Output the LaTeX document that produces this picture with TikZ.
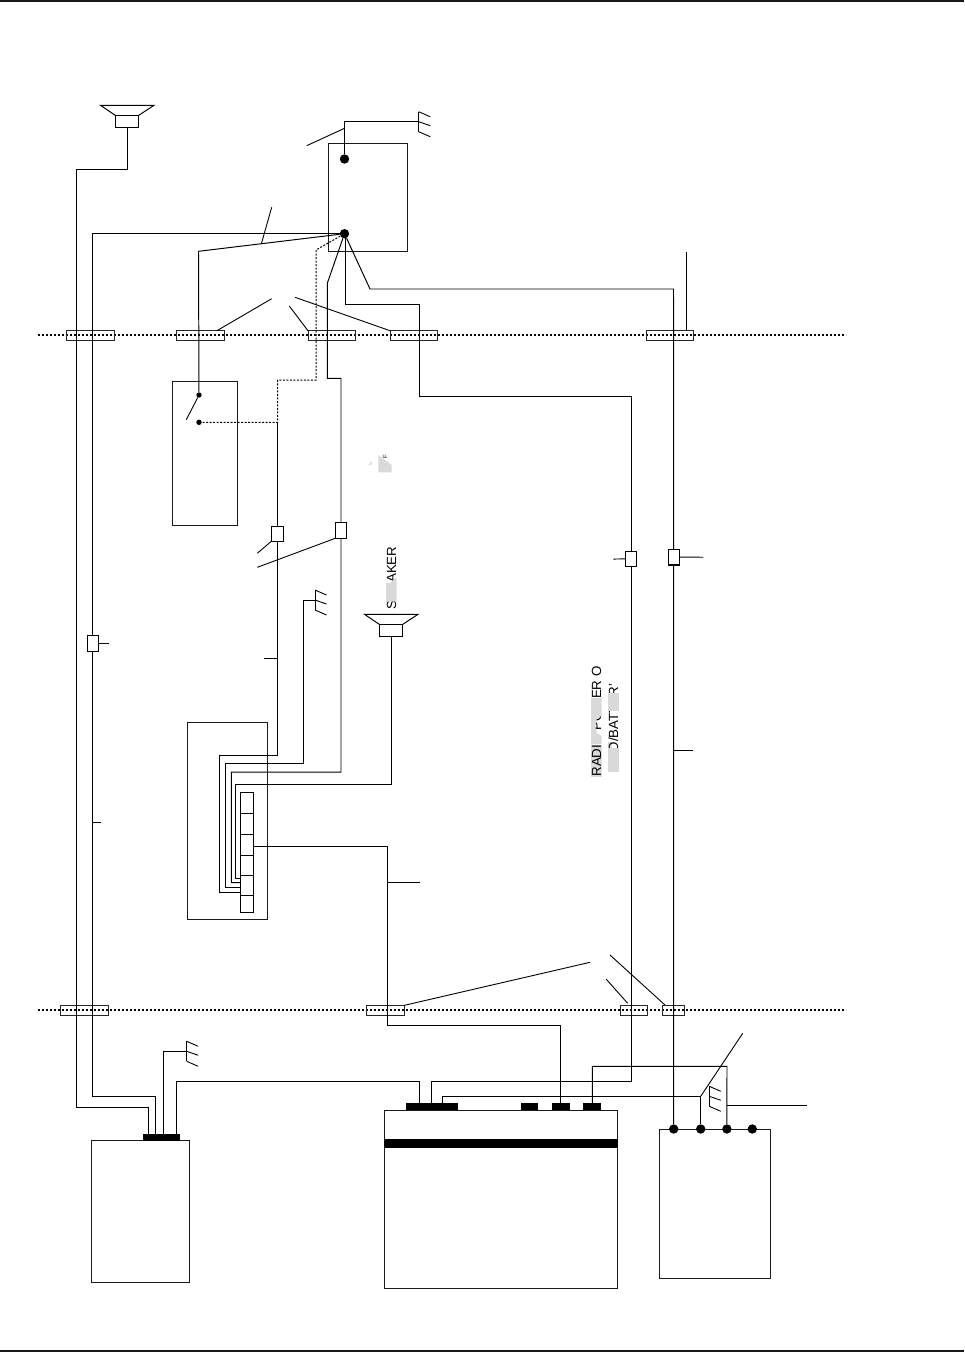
\documentclass[tikz,border=0pt]{standalone}
\usepackage{fontspec}
\setmainfont{Liberation Sans}
\begin{document}
\begin{tikzpicture}
[
x=1pt, y=-1pt,
Rule/.style={draw=black!90,line width=2pt},
Wire/.style={draw=black,line width=0.98pt},
Leader/.style={draw=black,line width=0.9pt},
Dashwire/.style={draw=black,line width=1pt,dash pattern=on 2pt off 1.5pt},
Firewall/.style={draw=black,line width=1.9pt,dash pattern=on 2.4pt off 1.6pt},
Block/.style={rectangle,draw=black!90,line width=0.98pt,inner sep=0pt,outer sep=0pt,anchor=north west},
Grommet/.style={rectangle,draw=black!85,line width=0.98pt,inner sep=0pt,outer sep=0pt,anchor=north west,minimum height=9.6pt},
Splice/.style={rectangle,draw=black,fill=white,line width=1.1pt,inner sep=0pt,outer sep=0pt,anchor=north west,minimum width=11.4pt,minimum height=15.5pt},
Cell/.style={rectangle,draw=black,fill=white,line width=0.95pt,inner sep=0pt,outer sep=0pt,anchor=north west,minimum width=13.4pt},
Pad/.style={rectangle,fill=black,inner sep=0pt,outer sep=0pt,anchor=north west},
Terminal/.style={circle,fill=black,inner sep=0pt,minimum size=9.4pt},
Contact/.style={circle,fill=black,inner sep=0pt,minimum size=5.4pt},
Patch/.style={fill=black!15,draw=none},
Printed/.style={inner sep=0pt,anchor=base west,rotate=90,font=\fontsize{13.3}{16}\selectfont}
]
\useasboundingbox (0,0) rectangle (964,1352);

\draw[Rule] (0,1)--(964,1);
\draw[Rule] (0,1351)--(964,1351);

% firewall lines
\draw[Firewall] (38,335)--(846,335);
\draw[Firewall] (38,1010)--(846,1010);

% modules
\node[Block,minimum width=78.3pt,minimum height=107.7pt] (Antenna) at (328.7,143.3) {};
\node[Block,minimum width=65pt,minimum height=143.6pt] (Switch) at (172.7,381.7) {};
\node[Block,minimum width=80.3pt,minimum height=197.4pt] (Radio) at (187,722.3) {};
\node[Block,minimum width=98.3pt,minimum height=141.3pt] (Amp) at (91,1140.7) {};
\node[Block,minimum width=233.4pt,minimum height=178pt] (Head) at (384.3,1110) {};
\node[Block,minimum width=110.3pt,minimum height=148.7pt] (Fuse) at (659.7,1129.3) {};

\node[Pad,minimum width=233.4pt,minimum height=8.5pt] (HeadBar) at (384.3,1139.2) {};
\node[Pad,minimum width=37pt,minimum height=7pt] (AmpPad) at (143,1134) {};
\node[Pad,minimum width=51.7pt,minimum height=7pt] (HeadPadA) at (406,1103.2) {};
\node[Pad,minimum width=17pt,minimum height=7pt] (HeadPadB) at (521,1103.2) {};
\node[Pad,minimum width=18pt,minimum height=7pt] (HeadPadC) at (552,1103.2) {};
\node[Pad,minimum width=18pt,minimum height=7pt] (HeadPadD) at (583,1103.2) {};

% terminals
\node[Terminal] (TopPost) at (344.5,159) {};
\node[Terminal] (MainPost) at (344.5,233.7) {};
\node[Contact] (SwitchA) at (199,395) {};
\node[Contact] (SwitchB) at (199,422.3) {};
\node[Terminal] (FuseA) at (673.7,1129) {};
\node[Terminal] (FuseB) at (700.7,1129) {};
\node[Terminal] (FuseC) at (726.9,1129) {};
\node[Terminal] (FuseD) at (752.3,1129) {};

% grommets in the firewall lines
\node[Grommet,minimum width=47.6pt] (UpperA) at (66.7,330.8) {};
\node[Grommet,minimum width=47.3pt] (UpperB) at (176.7,330.8) {};
\node[Grommet,minimum width=47.3pt] (UpperC) at (308,330.8) {};
\node[Grommet,minimum width=47.4pt] (UpperD) at (390.3,330.8) {};
\node[Grommet,minimum width=47.3pt] (UpperE) at (646,330.8) {};
\node[Grommet,minimum width=47.6pt] (LowerA) at (60.7,1005.4) {};
\node[Grommet,minimum width=37.3pt] (LowerB) at (366.7,1005.4) {};
\node[Grommet,minimum width=26.7pt] (LowerC) at (620.3,1005.4) {};
\node[Grommet,minimum width=22.4pt] (LowerD) at (662.3,1005.4) {};

% speaker and ground symbols
\foreach \sx/\sy in {127/105.3, 391/614.3}{
  \draw[Wire] (\sx-26.5,\sy)--(\sx+27,\sy)--(\sx+11.5,\sy+10.2)--(\sx-11.5,\sy+10.2)--cycle;
  \draw[Wire] (\sx-11.5,\sy+10.2) rectangle (\sx+11.5,\sy+22);
}
\foreach \gx/\gy in {418.7/121.7, 315/600, 186.7/1051.3, 709.3/1096.3}{
  \draw[Leader] (\gx,\gy-10)--(\gx,\gy+10);
  \draw[Leader] (\gx,\gy-10)--(\gx+11.5,\gy-5);
  \draw[Leader] (\gx,\gy)--(\gx+11.5,\gy+4);
  \draw[Leader] (\gx,\gy+10)--(\gx+11.5,\gy+15);
}

% wires
\draw[Wire] (127,127.3)--(127,169.3)--(76.3,169.3)--(76.3,1107.3)--(148.7,1107.3)--(148.7,1138);
\draw[Wire] (MainPost)--(92.3,233.7)--(92.3,1096.7)--(155.7,1096.7)--(155.7,1138);
\draw[Wire] (TopPost)--(344.5,121.7)--(418.7,121.7);
\draw[Wire] (MainPost)--(198.5,251.3)--(SwitchA);
\draw[Wire] (MainPost)--(327.3,283.3)--(327.3,378.3)--(341,378.3)--(341,772)--(231.3,772)--(231.3,882.7)--(240.3,882.7);
\draw[Wire] (345.7,233.7)--(345.7,304.3)--(419,304.3)--(419,396)--(631.3,396)--(631.3,1081.5)--(431.3,1081.5)--(431.3,1105);
\draw[Wire] (MainPost)--(370,289)--(673.5,289)--(FuseA);
\draw[Dashwire] (MainPost)--(316,250)--(316,380)--(277.7,380)--(277.7,422.3)--(SwitchB);
\draw[Wire] (277.7,422.3)--(277.7,755)--(219.3,755)--(219.3,892.7)--(240.3,892.7);
\draw[Wire] (303.7,600)--(315,600);
\draw[Wire] (303.7,600)--(303.7,763.3)--(225.3,763.3)--(225.3,887.3)--(240.3,887.3);
\draw[Wire] (391.3,636.3)--(391.3,784)--(235.7,784)--(235.7,878.3)--(240.3,878.3);
\draw[Wire] (253.7,846.3)--(387.5,846.3)--(387.5,1025.5)--(560.4,1025.5)--(560.4,1106);
\draw[Wire] (163.7,1141)--(163.7,1051.3)--(186.7,1051.3);
\draw[Wire] (176.7,1141)--(176.7,1081.4)--(419.7,1081.4)--(419.7,1106);
\draw[Wire] (442.3,1104)--(442.3,1096.3)--(700.7,1096.3)--(FuseB);
\draw[Wire] (592.3,1104)--(592.3,1066.3)--(727,1066.3)--(FuseC);

% switch arm
\draw[Leader] (SwitchA)--(186.3,419.7);

% inline splices and relay cells
\node[Splice,minimum width=12.4pt,minimum height=15pt] (SpliceA) at (271.3,526.3) {};
\node[Splice,minimum height=16pt] (SpliceB) at (335.3,522.3) {};
\node[Splice,minimum height=16.4pt] (SpliceC) at (87.3,635.3) {};
\node[Splice,minimum height=15pt] (SpliceD) at (625.3,551.3) {};
\node[Splice,minimum height=15.7pt] (SpliceE) at (668.3,549.3) {};
\node[Cell,minimum height=21pt] (CellA) at (240.3,792.3) {};
\node[Cell,minimum height=21pt] (CellB) at (240.3,813.3) {};
\node[Cell,minimum height=21pt] (CellC) at (240.3,834.3) {};
\node[Cell,minimum height=20pt] (CellD) at (240.3,855.3) {};
\node[Cell,minimum height=20pt] (CellE) at (240.3,875.3) {};
\node[Cell,minimum height=17pt] (CellF) at (240.3,895.3) {};

% leaders
\draw[Leader] (344.5,128.3)--(306.7,145.7);
\draw[Leader] (261.3,244)--(271.7,207.3);
\draw[Leader] (216.7,330.8)--(271.7,298.7);
\draw[Leader] (UpperC.north west)--(289.3,306);
\draw[Leader] (UpperD.north west)--(295,297.3);
\draw[Leader] (686.3,330.8)--(686.3,252);
\draw[Leader] (SpliceA.south west)--(257.3,553.3);
\draw[Leader] (SpliceB.south west)--(257.3,567.3);
\draw[Leader] (277.7,658.3)--(264,658.3);
\draw[Leader] (SpliceC.east)--(108.7,643.5);
\draw[Leader] (92.3,822.3)--(100.7,822.3);
\draw[Leader] (SpliceD.west)--(613.3,559.1);
\draw[Leader] (SpliceE.east)--(703.3,557.2);
\draw[Leader] (673.5,750.7)--(693.3,750.7);
\draw[Leader] (387.5,882.7)--(419.7,882.7);
\draw[Leader] (LowerB.north east)--(590,962.3);
\draw[Leader] (627.7,1003.3)--(606.3,979.3);
\draw[Leader] (665,1005)--(610,955);
\draw[Leader] (700.7,1096.3)--(742.7,1033.3);
\draw[Leader] (727,1105.3)--(806.7,1105.3);

% what is left of the printed text
\fill[Patch] (591,745) rectangle (601.5,777);
\node[Printed] (RadioText) at (601,776.7) {RADIO POWER O};
\fill[Patch] (591,698)--(601.5,698)--(601.5,716)--(597,718)--(595,726)--(597,733)--(601.5,736)--(601.5,744)--(591,744)--cycle;
\fill[Patch] (607.7,742) rectangle (612,748);
\node[Printed] (BatteryText) at (618,752.3) {O/BATTER'};
\fill[Patch] (607.7,693) rectangle (619.3,711);
\fill[Patch] (607.7,748) rectangle (619.3,771.7);
\node[Printed] (SpeakerText) at (396,609.6) {SPEAKER};
\fill[Patch] (386,601.7)--(396.7,601.7)--(396.7,577)--(390,583)--(386,583)--cycle;
\fill[Patch] (378.3,455)--(391.7,465)--(391.7,472.3)--(378.3,472.3)--cycle;
\fill[black!12] (368.3,465)--(371.7,460.7)--(371.7,465)--cycle;
\node[Printed,font=\fontsize{6}{7}\selectfont] (ScrapText) at (387,459) {F};
\end{tikzpicture}
\end{document}
